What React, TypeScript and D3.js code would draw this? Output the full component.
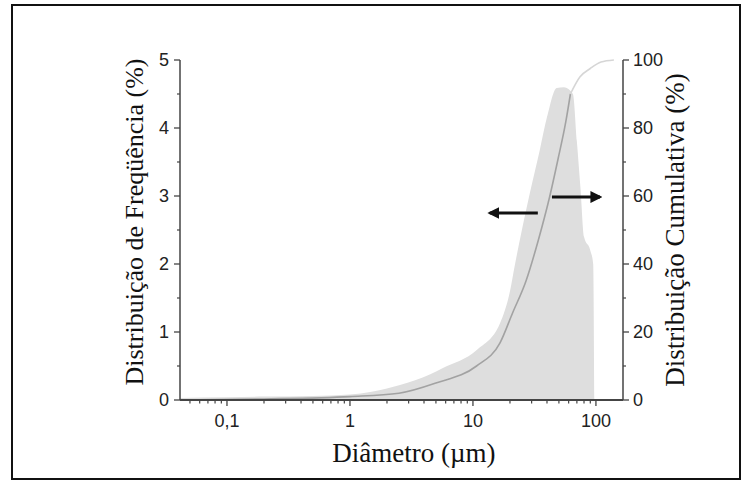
import React from "react";
import * as d3 from "d3";

// Frequency distribution (%) vs diameter (µm)
const freqDiam = [0.0415, 0.1, 0.2, 0.5, 1, 1.5, 2, 2.55, 4.5, 5.7, 10.8, 16.6, 20, 22, 25, 29, 35, 40, 48, 55, 65, 70, 75, 80, 90, 95, 97];
const freqVal = [0.03, 0.04, 0.05, 0.06, 0.08, 0.12, 0.17, 0.22, 0.38, 0.47, 0.74, 1.13, 1.6, 2.0, 2.5, 3.04, 3.68, 4.16, 4.59, 4.6, 4.5, 3.8, 3.1, 2.4, 2.2, 2.0, 0];

// Cumulative distribution (%) vs diameter (µm)
const cumDiam = [0.0415, 0.2, 1, 2.5, 5, 10.7, 16.6, 21, 27, 34, 42, 49, 57, 62, 74, 90, 110, 140];
const cumVal = [0, 0.3, 1, 2, 5, 10, 16.8, 25.6, 35, 47, 59.7, 70.6, 82, 90, 95, 97.5, 99.4, 100];

const xTicks = [0.1, 1, 10, 100];
const xTickLabels = ["0,1", "1", "10", "100"];
const yLeftTicks = [0, 1, 2, 3, 4, 5];
const yRightTicks = [0, 20, 40, 60, 80, 100];

const xLabel = "Diâmetro (µm)";
const yLeftLabel = "Distribuição de Freqüência (%)";
const yRightLabel = "Distribuição Cumulativa (%)";

// Arrows: [from, to] diameters, at a value on the given axis
const leftArrowX = [33.7, 13.7];
const leftArrowY = 2.75;
const rightArrowX = [43.9, 108];
const rightArrowY = 59.7;

export default function App() {
  const W = 742, H = 482;
  const x = d3.scaleLog().domain([0.0415, 166]).range([180, 623]);
  const yL = d3.scaleLinear().domain([0, 5]).range([400, 60]);
  const yR = d3.scaleLinear().domain([0, 100]).range([400, 60]);

  const freqData = freqDiam.map((d, i) => [d, freqVal[i]] as [number, number]);
  const cumData = cumDiam.map((d, i) => [d, cumVal[i]] as [number, number]);

  const area = d3.area<[number, number]>()
    .x(d => x(d[0]))
    .y0(yL(0))
    .y1(d => yL(d[1]))
    .curve(d3.curveMonotoneX);
  const line = d3.line<[number, number]>()
    .x(d => x(d[0]))
    .y(d => yR(d[1]))
    .curve(d3.curveMonotoneX);

  const minor: number[] = [];
  for (let e = -2; e <= 2; e++) {
    for (let m = 2; m <= 9; m++) {
      const v = m * Math.pow(10, e);
      if (v >= 0.0415 && v <= 166) minor.push(v);
    }
  }
  const yLMinor = d3.range(0.5, 5, 1);
  const yRMinor = d3.range(10, 100, 20);

  const axisColor = "#444";
  const tickFont = "'Liberation Sans', Arial, sans-serif";
  const titleFont = "'Liberation Serif', 'Times New Roman', serif";

  const split = 13;
  const cumMain = cumData.slice(0, split + 1);
  const cumTop = cumData.slice(split);

  return (
    <svg width={W} height={H} style={{ position: "absolute", left: 0, top: 0, background: "#fff" }}>
      <defs>
        <marker id="ah" viewBox="0 0 10 10" refX="8" refY="5" markerWidth="4" markerHeight="4" orient="auto-start-reverse">
          <path d="M0,0 L10,5 L0,10 z" fill="#111" />
        </marker>
      </defs>
      <rect x={12} y={5} width={728} height={474} fill="#fff" stroke="#111" strokeWidth={2} />

      <path d={area(freqData) || ""} fill="#dedede" stroke="none" />
      <path d={line(cumMain) || ""} fill="none" stroke="#a2a2a2" strokeWidth={1.6} />
      <path d={line(cumTop) || ""} fill="none" stroke="#d6d6d6" strokeWidth={1.6} />

      {/* arrows */}
      <line x1={x(leftArrowX[0])} x2={x(leftArrowX[1])} y1={yL(leftArrowY)} y2={yL(leftArrowY)}
        stroke="#111" strokeWidth={3} markerEnd="url(#ah)" />
      <line x1={x(rightArrowX[0])} x2={x(rightArrowX[1])} y1={yR(rightArrowY)} y2={yR(rightArrowY)}
        stroke="#111" strokeWidth={3} markerEnd="url(#ah)" />

      {/* axes lines */}
      <line x1={180} x2={180} y1={yL(5)} y2={yL(0)} stroke={axisColor} strokeWidth={1.5} />
      <line x1={623} x2={623} y1={yR(100)} y2={yR(0)} stroke={axisColor} strokeWidth={1.5} />
      <line x1={180} x2={623} y1={400} y2={400} stroke={axisColor} strokeWidth={1.8} />

      {/* left ticks */}
      {yLeftTicks.map(t => (
        <g key={"l" + t}>
          <line x1={174} x2={180} y1={yL(t)} y2={yL(t)} stroke={axisColor} strokeWidth={1.3} />
          <text x={169} y={yL(t) + 6} textAnchor="end" fontFamily={tickFont} fontSize={18} fill="#222">{t}</text>
        </g>
      ))}
      {yLMinor.map(t => (
        <line key={"lm" + t} x1={177} x2={180} y1={yL(t)} y2={yL(t)} stroke={axisColor} strokeWidth={1.2} />
      ))}

      {/* right ticks */}
      {yRightTicks.map(t => (
        <g key={"r" + t}>
          <line x1={623} x2={629} y1={yR(t)} y2={yR(t)} stroke={axisColor} strokeWidth={1.3} />
          <text x={633} y={yR(t) + 6} textAnchor="start" fontFamily={tickFont} fontSize={18} fill="#222">{t}</text>
        </g>
      ))}
      {yRMinor.map(t => (
        <line key={"rm" + t} x1={623} x2={626} y1={yR(t)} y2={yR(t)} stroke={axisColor} strokeWidth={1.2} />
      ))}

      {/* bottom ticks */}
      {xTicks.map((t, i) => (
        <g key={"x" + t}>
          <line x1={x(t)} x2={x(t)} y1={400} y2={406} stroke={axisColor} strokeWidth={1.3} />
          <text x={x(t)} y={427} textAnchor="middle" fontFamily={tickFont} fontSize={18} fill="#222">{xTickLabels[i]}</text>
        </g>
      ))}
      {minor.map(t => (
        <line key={"xm" + t} x1={x(t)} x2={x(t)} y1={400} y2={403.5} stroke={axisColor} strokeWidth={1.2} />
      ))}

      {/* titles */}
      <text x={414} y={462} textAnchor="middle" fontFamily={titleFont} fontSize={27} fill="#111">{xLabel}</text>
      <text transform={`translate(143,222) rotate(-90)`} textAnchor="middle" fontFamily={titleFont} fontSize={26} fill="#111">{yLeftLabel}</text>
      <text transform={`translate(684,230) rotate(-90)`} textAnchor="middle" fontFamily={titleFont} fontSize={27} fill="#111">{yRightLabel}</text>
    </svg>
  );
}
